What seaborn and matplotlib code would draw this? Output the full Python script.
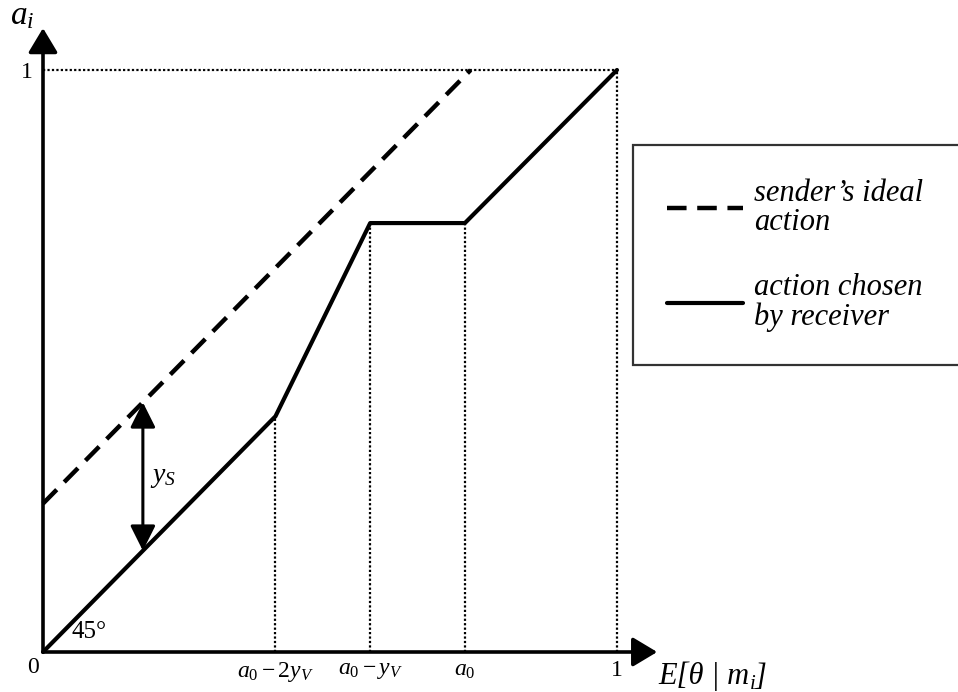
import numpy as np
import pandas as pd
import seaborn as sns
import matplotlib.pyplot as plt
from matplotlib.font_manager import FontProperties

# receiver's chosen action (piecewise, 45 degree then steep then flat then 45 degree)
receiver_x = [0.0, 0.405, 0.570, 0.735, 1.0]
receiver_y = [0.0, 0.405, 0.737, 0.737, 1.0]

# sender's ideal action (shifted up by y_S)
sender_x = [0.0, 0.745]
sender_y = [0.255, 1.0]

# y_S arrow
arrow_x = 0.174
arrow_y = [0.174, 0.429]

tick_x = [0.405, 0.570, 0.735, 1.0]
tick_labels = [r"$a_{\mathit{0}} - 2y_V$", r"$a_{\mathit{0}} - y_V$", r"$a_{\mathit{0}}$", "1"]

legend_labels = ["sender\u2019s ideal\naction", "action chosen\nby receiver"]

sns.set_style("white")
plt.rcParams["font.family"] = ["Liberation Serif", "DejaVu Serif"]
plt.rcParams["mathtext.fontset"] = "custom"
plt.rcParams["mathtext.rm"] = "Liberation Serif"
plt.rcParams["mathtext.it"] = "Liberation Serif:italic"
plt.rcParams["text.color"] = "black"
plt.rcParams["xtick.color"] = "black"
plt.rcParams["ytick.color"] = "black"
plt.rcParams["xtick.labelcolor"] = "black"
plt.rcParams["ytick.labelcolor"] = "black"

W, H = 958, 692
fig = plt.figure(figsize=(W / 100, H / 100), dpi=100)
ax = fig.add_axes([43 / W, 40 / H, 574 / W, 582 / H])
ax.set_xlim(0, 1)
ax.set_ylim(0, 1)
for s in ax.spines.values():
    s.set_visible(False)

df_recv = pd.DataFrame({"x": receiver_x, "y": receiver_y})
df_send = pd.DataFrame({"x": sender_x, "y": sender_y})

sns.lineplot(data=df_send, x="x", y="y", ax=ax, color="black", lw=3.2,
             estimator=None, label=legend_labels[0],
             linestyle=(0, (4.4, 2.4)))
sns.lineplot(data=df_recv, x="x", y="y", ax=ax, color="black", lw=3.0,
             estimator=None, label=legend_labels[1])
for ln in ax.lines:
    ln.set_dash_capstyle("butt")
    ln.set_clip_on(False)
ax.set_xlabel("")
ax.set_ylabel("")

# dotted guide lines
dot = dict(color="black", lw=1.6, linestyle=(0, (1, 1)), clip_on=False)
ax.plot([0, 1], [1, 1], **dot)
for xv, yv in zip(receiver_x[1:], receiver_y[1:]):
    ax.plot([xv, xv], [0, yv], **dot)

# axes with arrowheads
ap = dict(arrowstyle="-|>,head_length=0.6,head_width=0.36", lw=2.6, color="black",
          shrinkA=0, shrinkB=0, mutation_scale=25)
ax.annotate("", xy=(1.07, 0), xytext=(0, 0), arrowprops=ap, annotation_clip=False)
ax.annotate("", xy=(0, 1.072), xytext=(0, 0), arrowprops=ap, annotation_clip=False)

# y_S double arrow
ax.annotate("", xy=(arrow_x, arrow_y[1]), xytext=(arrow_x, arrow_y[0]),
            arrowprops=dict(arrowstyle="<|-|>,head_length=0.7,head_width=0.35",
                            lw=2.2, color="black", shrinkA=0, shrinkB=0,
                            mutation_scale=22))
ax.text(arrow_x + 0.012, 0.30, r"$y_S$", fontsize=20, va="center", ha="left")

# ticks
ax.set_xticks(tick_x, tick_labels, fontsize=17)
ax.set_yticks([1], ["1"], fontsize=17)
ax.tick_params(axis="x", length=0, pad=6)
ax.tick_params(axis="y", length=0, pad=7)
ax.text(-0.017, -0.027, "0", fontsize=17, ha="center", va="center")

# labels
ax.text(-0.058, 1.078, r"$a_i$", fontsize=24, ha="left", va="baseline")
# x label in italics, pieced together so the brackets stay italic too
t1 = ax.text(1.072, -0.042, "E[\u03b8 | m", fontsize=22, style="italic",
             ha="left", va="center")
t2 = ax.annotate("i", xy=(1.0, 0.08), xycoords=t1, fontsize=15, style="italic",
                 ha="left", va="baseline")
ax.annotate("]", xy=(1.0, 0.22), xycoords=(t2, t1), fontsize=22, style="italic",
            ha="left", va="baseline")
ax.text(0.08, 0.035, "45\u00b0", fontsize=18, ha="center", va="center")

# legend
handles = ax.get_legend_handles_labels()[0]
leg = ax.legend(handles, legend_labels, loc="upper left",
                bbox_to_anchor=(633 / W, 1 - 145 / H, 335 / W, 0),
                bbox_transform=fig.transFigure, mode="expand", borderaxespad=0,
                prop=FontProperties(family="Liberation Serif", style="italic", size=22),
                handlelength=2.5, handletextpad=0.35, labelspacing=1.2,
                borderpad=1.1, fancybox=False, frameon=True)
for t in leg.get_texts():
    t.set_linespacing(1.0)
    t.set_color("black")
leg.get_frame().set_edgecolor("black")
leg.get_frame().set_linewidth(1.6)

fig.savefig("out.png", dpi=100)
